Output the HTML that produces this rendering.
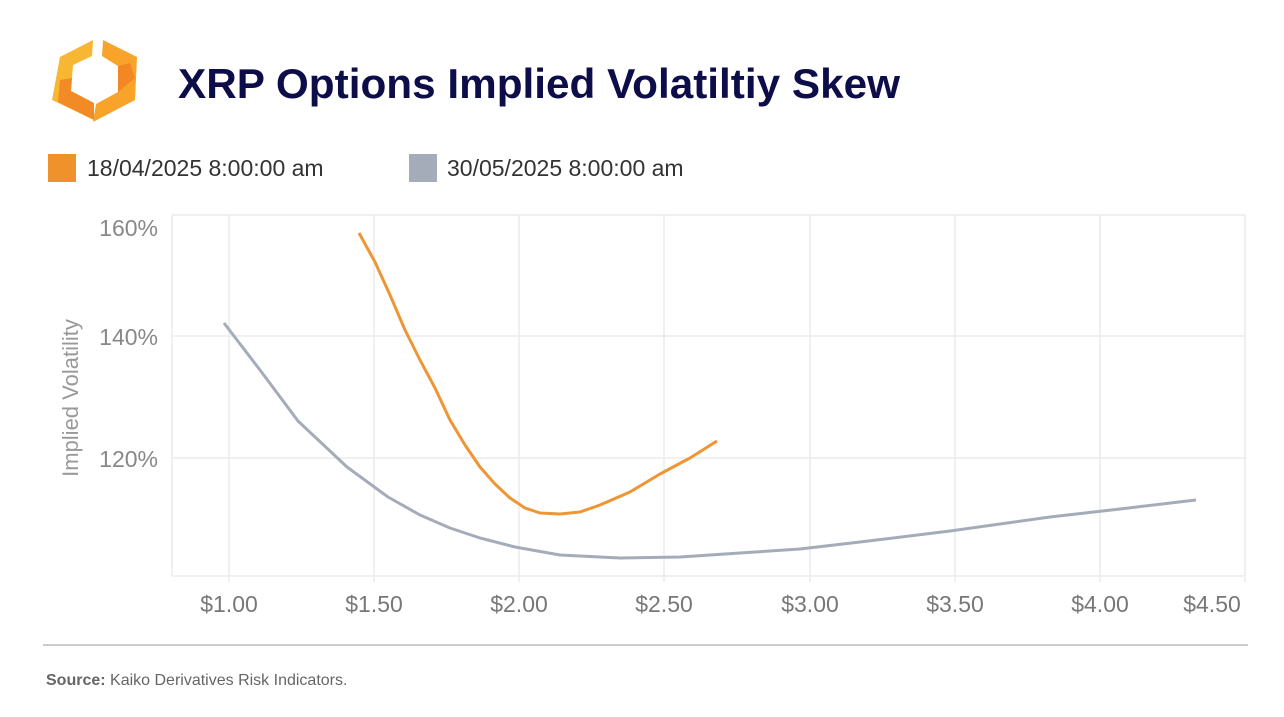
<!DOCTYPE html>
<html><head><meta charset="utf-8"><style>
body{margin:0;width:1284px;height:712px;background:#fff;font-family:"Liberation Sans",sans-serif;overflow:hidden}
</style></head><body>
<svg width="1284" height="712" xmlns="http://www.w3.org/2000/svg" font-family="Liberation Sans, sans-serif">
<polygon points="93,40 60,57 52,100 94,120 94,103 71,91 73,65 92,56" fill="#f7b733"/>
<polygon points="103,40 137,57 135,100 93,122 96,104 118,92 118,66 102,56" fill="#f8a32a"/>
<polygon points="60,80 72,78 71,91 94,103 94,120 58,102" fill="#f07f22" opacity="0.8"/>
<polygon points="118,66 130,63 135,78 118,92" fill="#f07f22" opacity="0.8"/>
<text x="178" y="98" font-size="42" font-weight="bold" fill="#0d0d4a" textLength="722" lengthAdjust="spacingAndGlyphs">XRP Options Implied Volatiltiy Skew</text>
<rect x="48" y="154" width="28" height="28" fill="#f0922c"/>
<text x="87" y="176" font-size="23" fill="#333">18/04/2025 8:00:00 am</text>
<rect x="409" y="154" width="28" height="28" fill="#a5acb9"/>
<text x="447" y="176" font-size="23" fill="#333">30/05/2025 8:00:00 am</text>
<g stroke="#ececec" stroke-width="1.5" fill="none">
<line x1="172" y1="215" x2="1245" y2="215"/>
<line x1="172" y1="336" x2="1245" y2="336"/>
<line x1="172" y1="458" x2="1245" y2="458"/>
<line x1="172" y1="576" x2="1245" y2="576"/>
<line x1="172" y1="215" x2="172" y2="576"/>
<line x1="229" y1="215" x2="229" y2="582"/>
<line x1="374" y1="215" x2="374" y2="582"/>
<line x1="519" y1="215" x2="519" y2="582"/>
<line x1="664" y1="215" x2="664" y2="582"/>
<line x1="810" y1="215" x2="810" y2="582"/>
<line x1="955" y1="215" x2="955" y2="582"/>
<line x1="1100" y1="215" x2="1100" y2="582"/>
<line x1="1245" y1="215" x2="1245" y2="582"/>
</g>
<g font-size="23" fill="#888" text-anchor="end">
<text x="158" y="236">160%</text>
<text x="158" y="345">140%</text>
<text x="158" y="467">120%</text>
</g>
<text transform="translate(78,398) rotate(-90)" font-size="22" fill="#999" text-anchor="middle">Implied Volatility</text>
<g font-size="23" fill="#777" text-anchor="middle">
<text x="229" y="612">$1.00</text>
<text x="374" y="612">$1.50</text>
<text x="519" y="612">$2.00</text>
<text x="664" y="612">$2.50</text>
<text x="810" y="612">$3.00</text>
<text x="955" y="612">$3.50</text>
<text x="1100" y="612">$4.00</text>
<text x="1212" y="612">$4.50</text>
</g>
<polyline fill="none" stroke="#a5acb9" stroke-width="3" stroke-linejoin="round" points="224,323 260,370 298,421 347,467 388,497 420,515 450,528 480,538 515,547 560,555 620,558 680,557 740,553 800,549 860,542 950,531 1050,517 1120,509 1196,500"/>
<polyline fill="none" stroke="#ee9633" stroke-width="3" stroke-linejoin="round" points="359,233 375,262 390,295 405,330 420,360 435,388 450,420 465,445 480,467 495,484 510,498 525,508 540,513 560,514 580,512 600,505 630,492 660,474 690,458 717,441"/>
<line x1="43" y1="645" x2="1248" y2="645" stroke="#bbb" stroke-width="1.5"/>
<text x="46" y="685" font-size="16" fill="#666"><tspan font-weight="bold">Source:</tspan> Kaiko Derivatives Risk Indicators.</text>
</svg>
</body></html>
